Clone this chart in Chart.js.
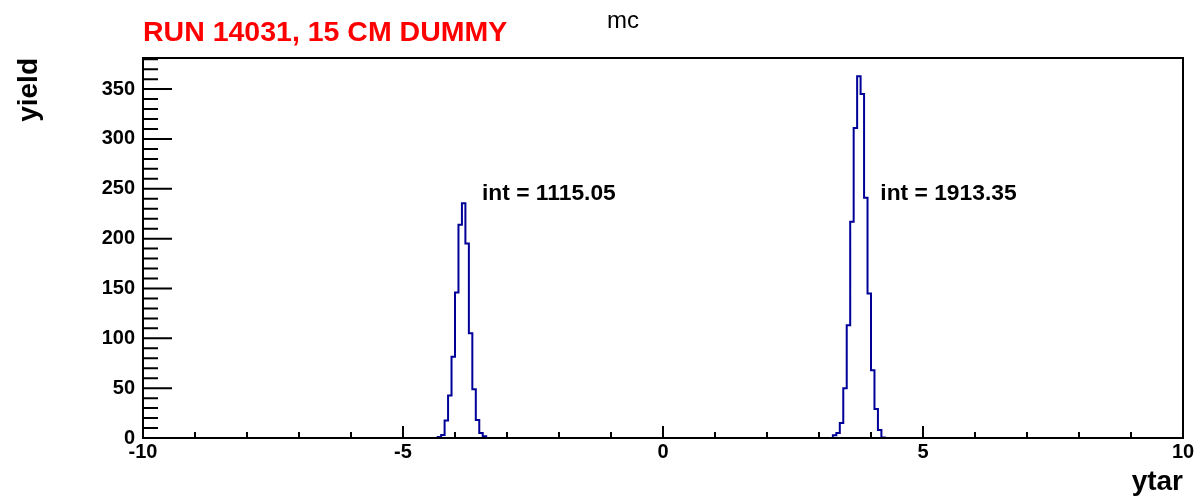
<!DOCTYPE html>
<html>
<head>
<meta charset="utf-8">
<script src="https://cdn.jsdelivr.net/npm/chart.js@4"></script>
<style>
  html, body { margin: 0; padding: 0; background: #fff; }
  #wrap { width: 1198px; height: 499px; }
</style>
</head>
<body>
<div id="wrap"><canvas id="c" width="1198" height="499"></canvas></div>
<script>
// histogram binning
var nBins = 300;
var xMin = -10;
var xMax = 10;
var yMax = 381.2;

// bin contents (all other bins are empty)
var leftPeakFirstBin = 85;
var leftPeakCounts = [1, 3, 17.6, 42.6, 81.6, 146, 214, 235.4, 195, 105, 49, 18, 5, 1.85];
var rightPeakFirstBin = 199;
var rightPeakCounts = [2.8, 5, 15, 50, 113, 217, 311, 363, 345, 241, 145, 68, 29, 8, 0.55];

// axis ticks
var xTickLabels = [-10, -5, 0, 5, 10];
var xMinorStep = 1, xMajorStep = 5;
var yMinorStep = 10, yMajorStep = 50;

// text labels at data coordinates
var intLabels = ['int = 1115.05', 'int = 1913.35'];
var intLabelX = [-3.48, 4.18];
var intLabelY = [245, 245];

var titleText = 'RUN 14031, 15 CM DUMMY';
var subText = 'mc';

var FONT = '"Liberation Sans", Arial, Helvetica, sans-serif';

var bins = new Array(nBins).fill(0);
leftPeakCounts.forEach(function(v, i){ bins[leftPeakFirstBin + i] = v; });
rightPeakCounts.forEach(function(v, i){ bins[rightPeakFirstBin + i] = v; });

var binWidth = (xMax - xMin) / nBins;
var points = bins.map(function(v, k){ return {x: xMin + k * binWidth, y: v}; });
points.push({x: xMax, y: bins[nBins - 1]});

var rootStyle = {
  id: 'rootStyle',
  afterDatasetsDraw: function(chart){
    var ctx = chart.ctx;
    var a = chart.chartArea;
    var xs = chart.scales.x, ys = chart.scales.y;
    ctx.save();
    ctx.strokeStyle = '#000';
    ctx.lineWidth = 2;
    ctx.beginPath();
    for (var v = xMin; v <= xMax; v += xMinorStep) {
      var len = (v % xMajorStep === 0) ? 12 : 6;
      var px = xs.getPixelForValue(v);
      ctx.moveTo(px, a.bottom);
      ctx.lineTo(px, a.bottom - len);
    }
    for (var w = 0; w <= yMax; w += yMinorStep) {
      var l = (w % yMajorStep === 0) ? 29 : 15;
      var py = ys.getPixelForValue(w);
      ctx.moveTo(a.left, py);
      ctx.lineTo(a.left + l, py);
    }
    ctx.stroke();
    ctx.strokeRect(a.left, a.top, a.right - a.left, a.bottom - a.top);

    ctx.fillStyle = '#000';
    ctx.font = 'bold 22.8px ' + FONT;
    ctx.textAlign = 'left';
    ctx.textBaseline = 'middle';
    intLabels.forEach(function(t, i){
      ctx.fillText(t, xs.getPixelForValue(intLabelX[i]), ys.getPixelForValue(intLabelY[i]));
    });
    ctx.restore();
  },
  afterDraw: function(chart){
    var ctx = chart.ctx;
    ctx.save();
    ctx.textBaseline = 'alphabetic';
    ctx.textAlign = 'left';
    ctx.fillStyle = '#ff0000';
    ctx.font = 'bold 28.5px ' + FONT;
    ctx.fillText(titleText, chart.chartArea.left, 41);
    ctx.fillStyle = '#000';
    ctx.font = '24px ' + FONT;
    ctx.textAlign = 'center';
    ctx.fillText(subText, 623, 28);
    ctx.restore();
  }
};

new Chart(document.getElementById('c'), {
  type: 'line',
  data: {
    datasets: [{
      data: points,
      stepped: 'before',
      borderColor: '#000099',
      borderWidth: 2,
      pointRadius: 0,
      fill: false
    }]
  },
  options: {
    responsive: false,
    animation: false,
    parsing: false,
    layout: { padding: { top: 58, right: 15, left: 0, bottom: 0 } },
    plugins: { legend: { display: false }, tooltip: { enabled: false } },
    scales: {
      x: {
        type: 'linear',
        min: xMin,
        max: xMax,
        grid: { display: false, drawTicks: false },
        border: { display: false },
        afterBuildTicks: function(s){ s.ticks = xTickLabels.map(function(v){ return {value: v}; }); },
        ticks: {
          padding: 2,
          maxRotation: 0,
          autoSkip: false,
          color: '#000',
          font: { family: FONT, size: 20, weight: 'bold' }
        },
        title: {
          display: true,
          text: 'ytar',
          align: 'end',
          color: '#000',
          padding: { top: 0, bottom: 0 },
          font: { family: FONT, size: 28, weight: 'bold' }
        },
        afterFit: function(s){ s.height = 61; s.paddingLeft = 0; s.paddingRight = 0; }
      },
      y: {
        type: 'linear',
        min: 0,
        max: yMax,
        grid: { display: false, drawTicks: false },
        border: { display: false },
        ticks: {
          stepSize: yMajorStep,
          includeBounds: false,
          padding: 8,
          color: '#000',
          font: { family: FONT, size: 20, weight: 'bold' }
        },
        title: {
          display: true,
          text: 'yield',
          align: 'end',
          color: '#000',
          padding: { top: 12, bottom: 0 },
          font: { family: FONT, size: 28, weight: 'bold' }
        },
        afterFit: function(s){ s.width = 143; s.paddingTop = 0; s.paddingBottom = 0; }
      }
    }
  },
  plugins: [rootStyle]
});
</script>
</body>
</html>
